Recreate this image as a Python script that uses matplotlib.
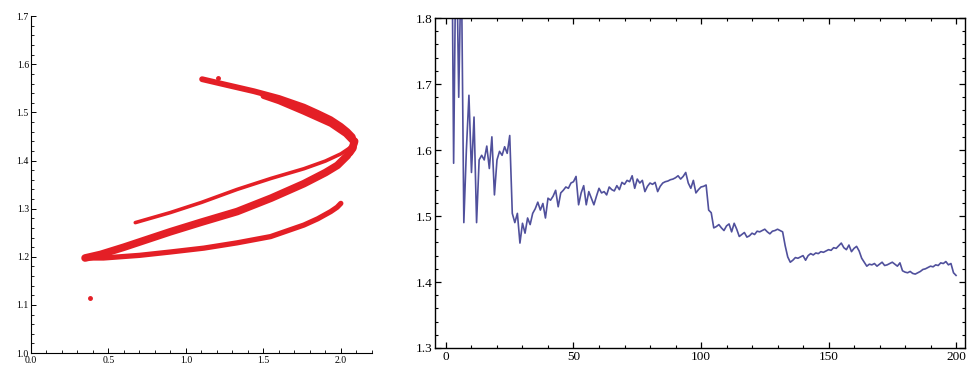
import matplotlib
matplotlib.use("Agg")
import matplotlib.pyplot as plt
from matplotlib.ticker import MultipleLocator, FormatStrFormatter

plt.rcParams['font.family'] = ['Liberation Serif', 'DejaVu Serif']

# left panel: strands of the attractor
upper_arm_x = [1.104, 1.25, 1.438, 1.60, 1.761, 1.85, 1.934, 2.00, 2.042, 2.075, 2.088, 2.082, 2.06]
upper_arm_y = [1.569, 1.558, 1.544, 1.530, 1.512, 1.499, 1.486, 1.472, 1.461, 1.450, 1.438, 1.425, 1.415]

upper_inner_x = [1.50, 1.60, 1.761, 1.934, 2.03, 2.075]
upper_inner_y = [1.534, 1.523, 1.501, 1.476, 1.455, 1.440]

thin_return_x = [0.673, 0.90, 1.10, 1.33, 1.55, 1.761, 1.90, 2.00, 2.06]
thin_return_y = [1.271, 1.292, 1.313, 1.340, 1.363, 1.383, 1.399, 1.414, 1.427]

main_return_x = [0.349, 0.45, 0.60, 0.899, 1.10, 1.33, 1.55, 1.761, 1.90, 1.977, 2.04, 2.075, 2.088]
main_return_y = [1.1975, 1.205, 1.220, 1.252, 1.272, 1.294, 1.322, 1.352, 1.375, 1.390, 1.410, 1.428, 1.440]

lower_arm_x = [0.349, 0.468, 0.70, 0.90, 1.115, 1.33, 1.546, 1.761, 1.85, 1.934, 1.975, 1.999]
lower_arm_y = [1.1975, 1.1975, 1.203, 1.210, 1.218, 1.229, 1.242, 1.266, 1.279, 1.294, 1.303, 1.311]

stray_x = [0.382, 1.205]
stray_y = [1.115, 1.571]

# right panel: one value per step, 1..200
steps = list(range(1, 201))
values = [
    2.5, 2.1, 1.58, 1.95, 1.68, 1.9, 1.49, 1.6, 1.683, 1.566,
    1.65, 1.49, 1.585, 1.592, 1.585, 1.606, 1.572, 1.62, 1.532, 1.585,
    1.598, 1.592, 1.605, 1.595, 1.622, 1.504, 1.49, 1.504, 1.459, 1.489,
    1.474, 1.497, 1.487, 1.504, 1.511, 1.521, 1.509, 1.519, 1.497, 1.527,
    1.524, 1.53, 1.539, 1.514, 1.535, 1.539, 1.544, 1.542, 1.55, 1.552,
    1.56, 1.517, 1.535, 1.546, 1.517, 1.537, 1.527, 1.517, 1.53, 1.542,
    1.535, 1.537, 1.532, 1.544, 1.54, 1.538, 1.546, 1.54, 1.551, 1.548,
    1.554, 1.552, 1.561, 1.542, 1.556, 1.55, 1.554, 1.537, 1.545, 1.55,
    1.548, 1.551, 1.537, 1.545, 1.55, 1.552, 1.553, 1.555, 1.556, 1.558,
    1.561, 1.556, 1.56, 1.566, 1.55, 1.542, 1.554, 1.535, 1.54, 1.544,
    1.545, 1.547, 1.509, 1.505, 1.482, 1.484, 1.487, 1.482, 1.478, 1.485,
    1.488, 1.476, 1.489, 1.48, 1.469, 1.472, 1.475, 1.468, 1.47, 1.474,
    1.472, 1.477, 1.476, 1.478, 1.48, 1.476, 1.473, 1.477, 1.478, 1.48,
    1.478, 1.476, 1.455, 1.438, 1.43, 1.433, 1.437, 1.436, 1.438, 1.44,
    1.433, 1.44, 1.443, 1.441, 1.444, 1.443, 1.446, 1.445, 1.447, 1.449,
    1.448, 1.452, 1.451, 1.455, 1.459, 1.452, 1.449, 1.456, 1.446, 1.451,
    1.454, 1.447, 1.436, 1.43, 1.424, 1.427, 1.426, 1.428, 1.424, 1.427,
    1.43, 1.425, 1.426, 1.428, 1.43, 1.427, 1.424, 1.429, 1.417, 1.415,
    1.414, 1.416, 1.413, 1.412, 1.414, 1.416, 1.419, 1.42, 1.422, 1.424,
    1.423, 1.426, 1.425, 1.429, 1.428, 1.431, 1.426, 1.428, 1.414, 1.41,
]

red = '#e41f26'
blue = '#50509c'

fig = plt.figure(figsize=(9.71, 3.67), dpi=100)

ax1 = fig.add_axes([0.0319, 0.038, 0.3512, 0.918])
kw = dict(color=red, solid_capstyle='round', solid_joinstyle='round')
ax1.plot(upper_arm_x, upper_arm_y, lw=4.2, **kw)
ax1.plot(upper_inner_x, upper_inner_y, lw=4.2, **kw)
ax1.plot(main_return_x, main_return_y, lw=5.5, **kw)
ax1.plot(thin_return_x, thin_return_y, lw=2.6, **kw)
ax1.plot(lower_arm_x, lower_arm_y, lw=3.8, **kw)
ax1.plot(stray_x, stray_y, 'o', color=red, ms=2.5)
ax1.set_xlim(0, 2.2)
ax1.set_ylim(1.0, 1.7)
ax1.spines['top'].set_visible(False)
ax1.spines['right'].set_visible(False)
for s in ['left', 'bottom']:
    ax1.spines[s].set_linewidth(0.8)
ax1.xaxis.set_major_locator(MultipleLocator(0.5))
ax1.xaxis.set_minor_locator(MultipleLocator(0.1))
ax1.yaxis.set_major_locator(MultipleLocator(0.1))
ax1.yaxis.set_minor_locator(MultipleLocator(0.02))
ax1.xaxis.set_major_formatter(FormatStrFormatter('%.1f'))
ax1.yaxis.set_major_formatter(FormatStrFormatter('%.1f'))
ax1.tick_params(which='major', direction='in', length=3.5, width=0.7, labelsize=7, pad=1.5)
ax1.tick_params(axis='x', which='major', pad=2.2)
ax1.tick_params(which='minor', direction='in', length=2, width=0.6)

ax2 = fig.add_axes([0.448, 0.0518, 0.5458, 0.899])
ax2.plot(steps, values, color=blue, lw=1.2)
ax2.set_xlim(-4.3, 203.5)
ax2.set_ylim(1.3, 1.8)
for s in ax2.spines.values():
    s.set_linewidth(1.0)
ax2.xaxis.set_major_locator(MultipleLocator(50))
ax2.xaxis.set_minor_locator(MultipleLocator(10))
ax2.yaxis.set_major_locator(MultipleLocator(0.1))
ax2.yaxis.set_minor_locator(MultipleLocator(0.02))
ax2.yaxis.set_major_formatter(FormatStrFormatter('%.1f'))
ax2.tick_params(which='major', direction='in', length=4.5, width=0.9, labelsize=9.5,
                top=True, right=True, pad=2)
ax2.tick_params(which='minor', direction='in', length=2.5, width=0.8, top=True, right=True)

fig.savefig('out.png', dpi=100)
